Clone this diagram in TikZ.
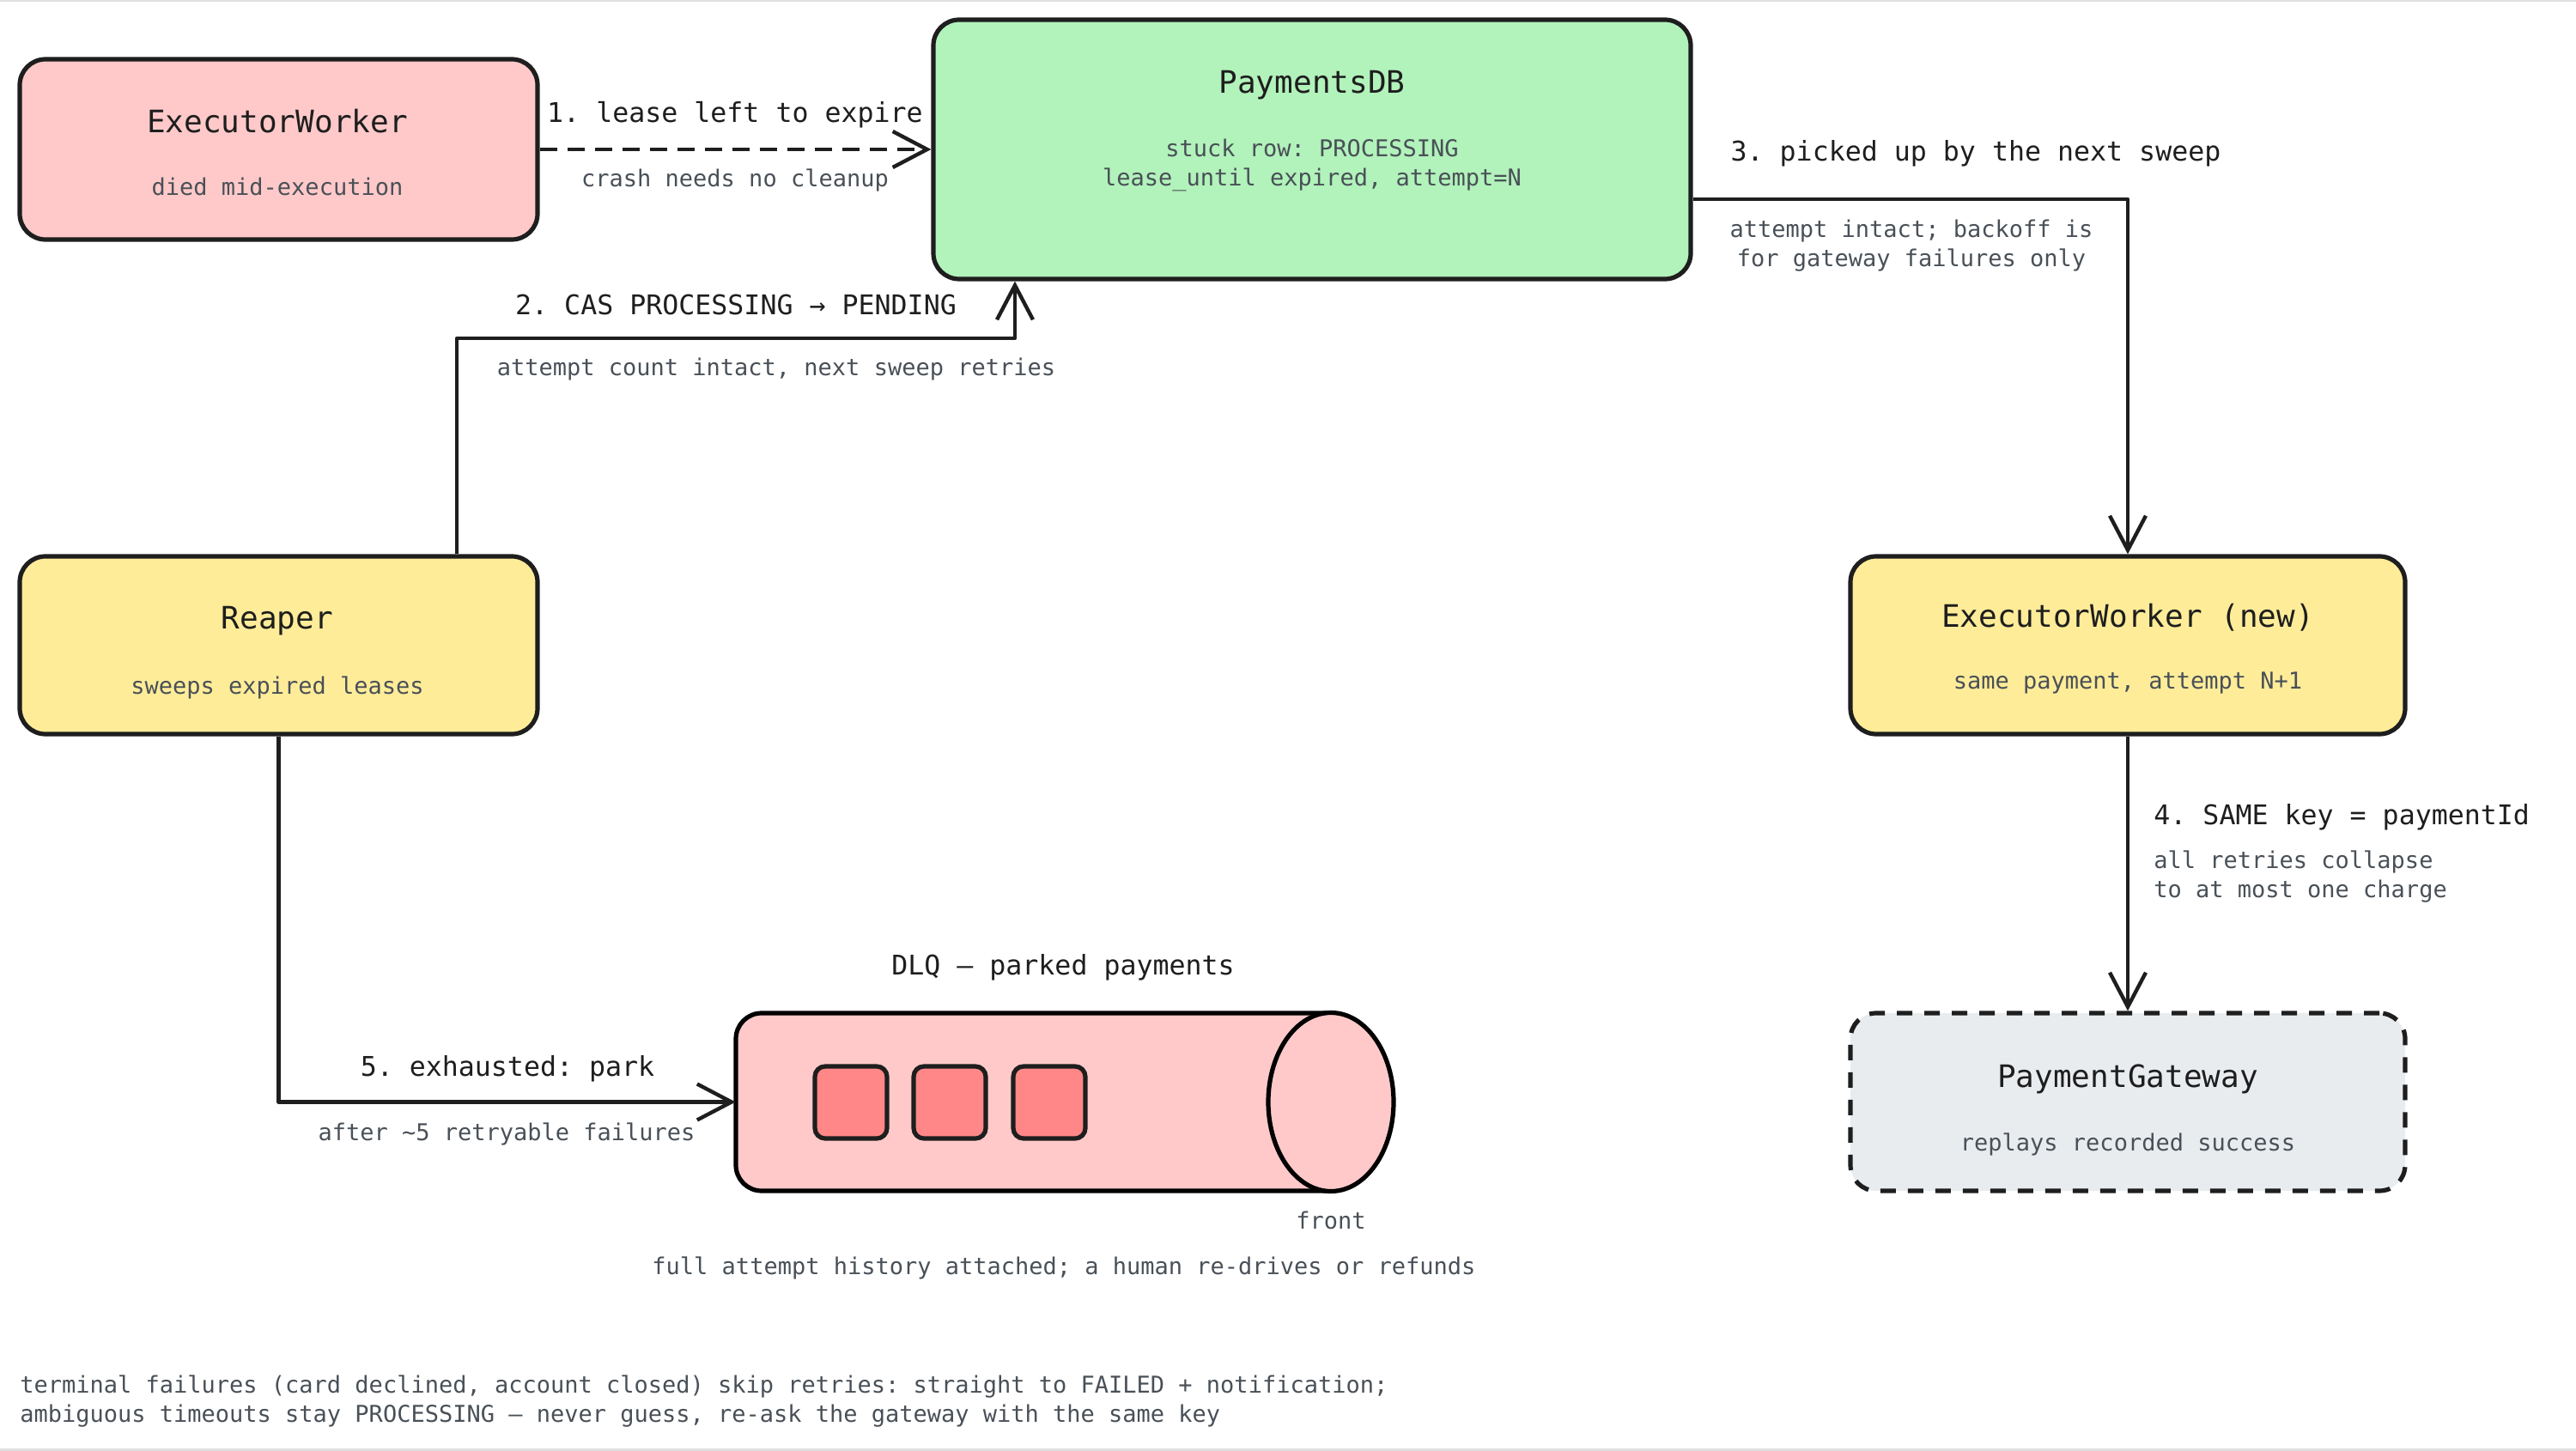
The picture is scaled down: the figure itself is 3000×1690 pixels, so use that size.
\documentclass[tikz,border=0pt]{standalone}
\usepackage{fontspec}
\setmonofont{DejaVu Sans Mono}
\usetikzlibrary{arrows.meta}
\definecolor{ink}{HTML}{1E1E1E}
\definecolor{subtxt}{HTML}{495057}
\definecolor{redfill}{HTML}{FFC9C9}
\definecolor{greenfill}{HTML}{B2F2BB}
\definecolor{yellowfill}{HTML}{FFEC99}
\definecolor{grayfill}{HTML}{E9ECEF}
\definecolor{itemfill}{HTML}{FF8787}
\begin{document}
\begin{tikzpicture}[x=0.5pt,y=-0.5pt,
  box/.style={draw=ink, line width=2.6pt, rounded corners=15pt, inner sep=0pt},
  ttl/.style={font=\ttfamily\fontsize{18}{22}\selectfont, text=ink, inner sep=0pt},
  sub/.style={font=\ttfamily\fontsize{13.5}{17}\selectfont, text=subtxt, align=center, inner sep=0pt},
  lbl/.style={font=\ttfamily\fontsize{15.8}{19}\selectfont, text=ink, inner sep=0pt},
  conn/.style={draw=ink, line width=2.2pt, line join=round,
    -{Straight Barb[length=20pt,width=21pt,line width=2.2pt]}},
  item/.style={draw=ink, line width=2.6pt, fill=itemfill, rounded corners=6pt,
    minimum width=42pt, minimum height=42pt, inner sep=0pt}]
\useasboundingbox (0,0) rectangle (3000,1690);
\draw[black!12, line width=1.5pt] (0,1) -- (3000,1);
\draw[black!12, line width=1.5pt] (0,1688) -- (3000,1688);

% boxes
\node[box, fill=redfill, minimum width=301.5pt, minimum height=105pt] (ew) at (324.5,174) {};
\node[box, fill=greenfill, minimum width=441pt, minimum height=151pt] (pdb) at (1528,174) {};
\node[box, fill=yellowfill, minimum width=301.5pt, minimum height=103.5pt] (reaper) at (324.5,751.5) {};
\node[box, fill=yellowfill, minimum width=323pt, minimum height=103.5pt] (nw) at (2478,751.5) {};
\node[box, fill=grayfill, dash pattern=on 9pt off 7pt, minimum width=323pt, minimum height=103.5pt] (gw) at (2478,1283.5) {};

% box texts
\node[ttl] (ewt) at (323,141) {ExecutorWorker};
\node[sub] (ews) at (323,217) {died mid-execution};
\node[ttl] (pdbt) at (1528,99) {PaymentsDB};
\node[sub] (pdbs) at (1528,192) {stuck row: PROCESSING\\lease\_until expired, attempt=N};
\node[ttl] (reapert) at (323,723) {Reaper};
\node[sub] (reapers) at (323,801) {sweeps expired leases};
\node[ttl] (nwt) at (2478,719) {ExecutorWorker (new)};
\node[sub] (nws) at (2478,795) {same payment, attempt N+1};
\node[ttl] (gwt) at (2478,1257) {PaymentGateway};
\node[sub] (gws) at (2478,1333) {replays recorded success};

% DLQ cylinder
\draw[fill=redfill, line width=2.6pt, rounded corners=15pt]
  (1550,1180) -- (857,1180) -- (857,1387) -- (1550,1387);
\draw[fill=redfill, line width=2.6pt] (1550,1283.5) ellipse [x radius=36.5pt, y radius=52pt];
\node[inner sep=0pt, minimum width=383pt, minimum height=103.5pt] (dlq) at (1240,1283.5) {};
\node[item] (q1) at (991,1284) {};
\node[item] (q2) at (1106,1284) {};
\node[item] (q3) at (1222,1284) {};
\node[ttl, font=\ttfamily\fontsize{15.8}{19}\selectfont] (dlqt) at (1238,1127) {DLQ – parked payments};
\node[sub] (front) at (1550,1421) {front};
\node[sub] (dlqs) at (1239,1477) {full attempt history attached; a human re-drives or refunds};

% connectors
\draw[conn, dash pattern=on 10pt off 6pt] (ew.east) -- (pdb.west);
\node[lbl] (l1) at (856,134) {1. lease left to expire};
\node[sub] (s1) at (856,210) {crash needs no cleanup};

\coordinate (b2) at (532,394);
\coordinate (b2r) at (1182,394);
\draw[conn] (reaper.north -| b2) -- (b2) -- (b2r) -- (pdb.south -| b2r);
\node[lbl] (l2) at (857,355) {2. CAS PROCESSING → PENDING};
\node[sub] (s2) at (904,430) {attempt count intact, next sweep retries};

\coordinate (b3) at (2478,232);
\draw[conn] (pdb.east |- b3) -- (b3) -- (nw.north);
\node[lbl] (l3) at (2301,179) {3. picked up by the next sweep};
\node[sub] (s3) at (2226,286) {attempt intact; backoff is\\for gateway failures only};

\draw[conn] (nw.south) -- (gw.north);
\node[lbl, anchor=west] (l4) at (2508,952) {4. SAME key = paymentId};
\node[sub, anchor=west, align=left] (s4) at (2508,1021) {all retries collapse\\to at most one charge};

\draw[conn] (reaper.south) -- (reaper.south |- dlq.west) -- (dlq.west);
\node[lbl] (l5) at (591,1245) {5. exhausted: park};
\node[sub] (s5) at (590,1321) {after \textasciitilde5 retryable failures};

% footer
\node[sub, anchor=west, align=left] (foot) at (23,1632)
  {terminal failures (card declined, account closed) skip retries: straight to FAILED + notification;\\
   ambiguous timeouts stay PROCESSING – never guess, re-ask the gateway with the same key};
\end{tikzpicture}
\end{document}
